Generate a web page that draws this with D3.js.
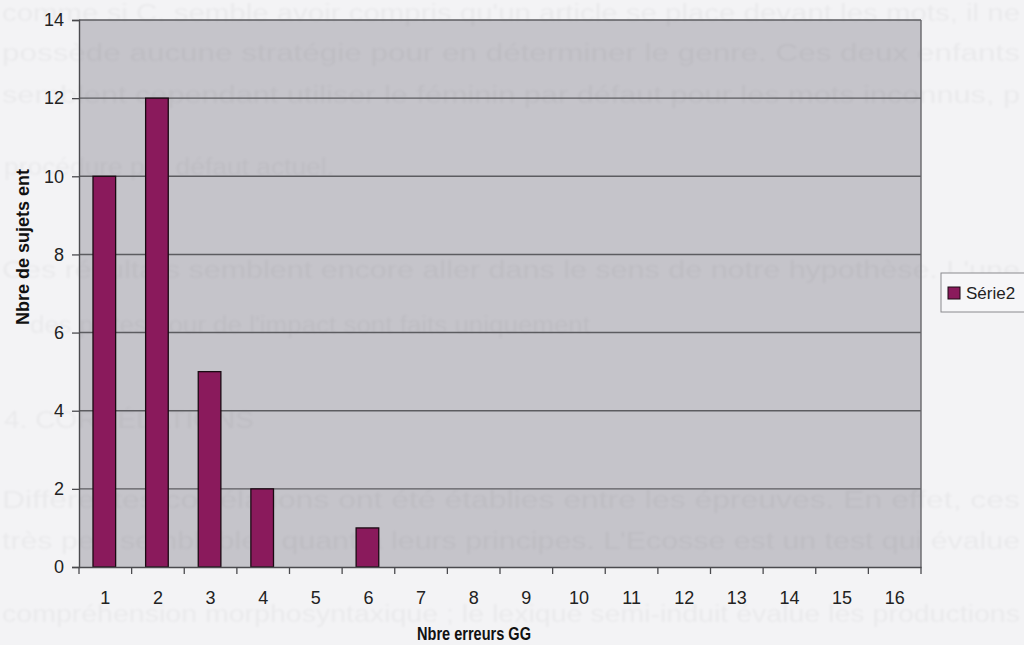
<!DOCTYPE html>
<html>
<head>
<meta charset="utf-8">
<script src="https://cdn.jsdelivr.net/npm/d3@7"></script>
<style>
  html, body { margin: 0; padding: 0; background: #f3f3f5; }
  svg { display: block; }
</style>
</head>
<body>
<svg id="chart" width="1024" height="645"></svg>
<script>
// Number of errors (categories) and number of subjects per category
const categories = ["1","2","3","4","5","6","7","8","9","10","11","12","13","14","15","16"];
const serie2 = [10, 12, 5, 2, 0, 1, 0, 0, 0, 0, 0, 0, 0, 0, 0, 0];
const yTicks = [0, 2, 4, 6, 8, 10, 12, 14];
const seriesName = "Série2";
const xTitle = "Nbre erreurs GG";
const yTitle = "Nbre de sujets ent";

// Text of the printed page behind the chart, showing through faintly
const pageLines = [
  "comme si C. semble avoir compris qu'un article se place devant les mots, il ne",
  "possède aucune stratégie pour en déterminer le genre.  Ces deux enfants",
  "semblent cependant utiliser le féminin par défaut pour les mots inconnus, p",
  "procédure par défaut actuel.",
  "Ces résultats semblent encore aller dans le sens de notre hypothèse.  L'une",
  "des pistes pour de l'impact sont faits uniquement",
  "4. CORRÉLATIONS",
  "Différentes corrélations ont été établies entre les épreuves.  En effet, ces",
  "très peu semblables quant à leurs principes.  L'Ecosse est un test qui évalue",
  "compréhension morphosyntaxique ; le lexique semi-induit évalue les productions"
];
const pageLineY = [21, 61, 103, 175, 278, 333, 428, 508, 549, 622];
const pageLineX = [2, 2, 2, 4, 2, 30, 4, 2, 2, 2];
const pageLineLen = [1018, 1018, 1018, 330, 1018, 560, 250, 1018, 1018, 1018];

const svg = d3.select("#chart");
const W = 1024, H = 645;
const m = { left: 79, right: 103, top: 20, bottom: 78 };
const plotW = W - m.left - m.right;
const plotH = H - m.top - m.bottom;

const x = d3.scaleBand().domain(categories).range([m.left, m.left + plotW]).padding(0);
const y = d3.scaleLinear().domain([0, 14]).range([m.top + plotH, m.top]);

const defs = svg.append("defs");
defs.append("filter").attr("id", "soft")
  .append("feGaussianBlur").attr("stdDeviation", 0.9);

// plot area
svg.append("rect")
  .attr("x", m.left).attr("y", m.top)
  .attr("width", plotW).attr("height", plotH)
  .attr("fill", "#c5c4ca");

// faint page text
svg.append("g")
  .attr("filter", "url(#soft)")
  .attr("font-family", "Liberation Sans, Arial, sans-serif")
  .attr("font-size", 23)
  .attr("fill", "#000")
  .attr("fill-opacity", 0.04)
  .selectAll("text")
  .data(pageLines)
  .join("text")
  .attr("x", (d, i) => pageLineX[i])
  .attr("y", (d, i) => pageLineY[i])
  .attr("textLength", (d, i) => pageLineLen[i])
  .attr("lengthAdjust", "spacingAndGlyphs")
  .text(d => d);

// horizontal gridlines
svg.append("g")
  .selectAll("line")
  .data(yTicks.filter(t => t > 0))
  .join("line")
  .attr("x1", m.left).attr("x2", m.left + plotW)
  .attr("y1", d => y(d)).attr("y2", d => y(d))
  .attr("stroke", "#5c5c60")
  .attr("stroke-width", 1.4);

// plot border (right side)
svg.append("line")
  .attr("x1", m.left + plotW).attr("x2", m.left + plotW)
  .attr("y1", m.top).attr("y2", m.top + plotH)
  .attr("stroke", "#66666a").attr("stroke-width", 1.4);

// bars
const barW = x.bandwidth() * 0.43;
svg.append("g")
  .selectAll("rect")
  .data(categories.map((c, i) => ({ c, v: serie2[i] })).filter(d => d.v > 0))
  .join("rect")
  .attr("x", d => x(d.c) + (x.bandwidth() - barW) / 2 - 1)
  .attr("y", d => y(d.v))
  .attr("width", barW)
  .attr("height", d => y(0) - y(d.v))
  .attr("fill", "#8a1a5c")
  .attr("stroke", "#1a0a12")
  .attr("stroke-width", 1.3);

// y axis
const yAxis = svg.append("g")
  .attr("transform", `translate(${m.left},0)`)
  .call(d3.axisLeft(y).tickValues(yTicks).tickSize(7).tickPadding(8).tickFormat(d3.format("d")));
yAxis.select(".domain").attr("stroke", "#4a4a4e").attr("stroke-width", 1.4);
yAxis.selectAll(".tick line").attr("stroke", "#4a4a4e").attr("stroke-width", 1.3);
yAxis.selectAll(".tick text")
  .attr("font-family", "Liberation Sans, Arial, sans-serif")
  .attr("font-size", 18)
  .attr("fill", "#222");

// x axis with ticks at category boundaries
const xAxis = svg.append("g")
  .attr("transform", `translate(0,${m.top + plotH})`)
  .call(d3.axisBottom(x).tickSize(0).tickPadding(24));
xAxis.select(".domain").attr("stroke", "#4a4a4e").attr("stroke-width", 1.6);
xAxis.selectAll(".tick text")
  .attr("font-family", "Liberation Sans, Arial, sans-serif")
  .attr("font-size", 18)
  .attr("fill", "#222");
xAxis.append("g")
  .selectAll("line")
  .data(categories.concat(["end"]))
  .join("line")
  .attr("x1", (d, i) => m.left + i * x.step())
  .attr("x2", (d, i) => m.left + i * x.step())
  .attr("y1", 0).attr("y2", 7)
  .attr("stroke", "#4a4a4e").attr("stroke-width", 1.3);

// axis titles
svg.append("text")
  .attr("x", 474).attr("y", 640)
  .attr("text-anchor", "middle")
  .attr("font-family", "Liberation Sans, Arial, sans-serif")
  .attr("font-weight", "bold")
  .attr("font-size", 19)
  .attr("textLength", 114)
  .attr("lengthAdjust", "spacingAndGlyphs")
  .attr("fill", "#111")
  .text(xTitle);

svg.append("text")
  .attr("transform", "translate(29,247) rotate(-90)")
  .attr("text-anchor", "middle")
  .attr("font-family", "Liberation Sans, Arial, sans-serif")
  .attr("font-weight", "bold")
  .attr("font-size", 18)
  .attr("fill", "#111")
  .text(yTitle);

// legend
const lg = svg.append("g");
lg.append("rect")
  .attr("x", 941).attr("y", 273)
  .attr("width", 100).attr("height", 39)
  .attr("fill", "#f6f6f8")
  .attr("stroke", "#8a8a8e").attr("stroke-width", 1);
lg.append("rect")
  .attr("x", 948).attr("y", 287)
  .attr("width", 12).attr("height", 12)
  .attr("fill", "#8a1a5c")
  .attr("stroke", "#1a0a12").attr("stroke-width", 1);
lg.append("text")
  .attr("x", 966).attr("y", 299)
  .attr("font-family", "Liberation Sans, Arial, sans-serif")
  .attr("font-size", 17)
  .attr("fill", "#222")
  .text(seriesName);
</script>
</body>
</html>
